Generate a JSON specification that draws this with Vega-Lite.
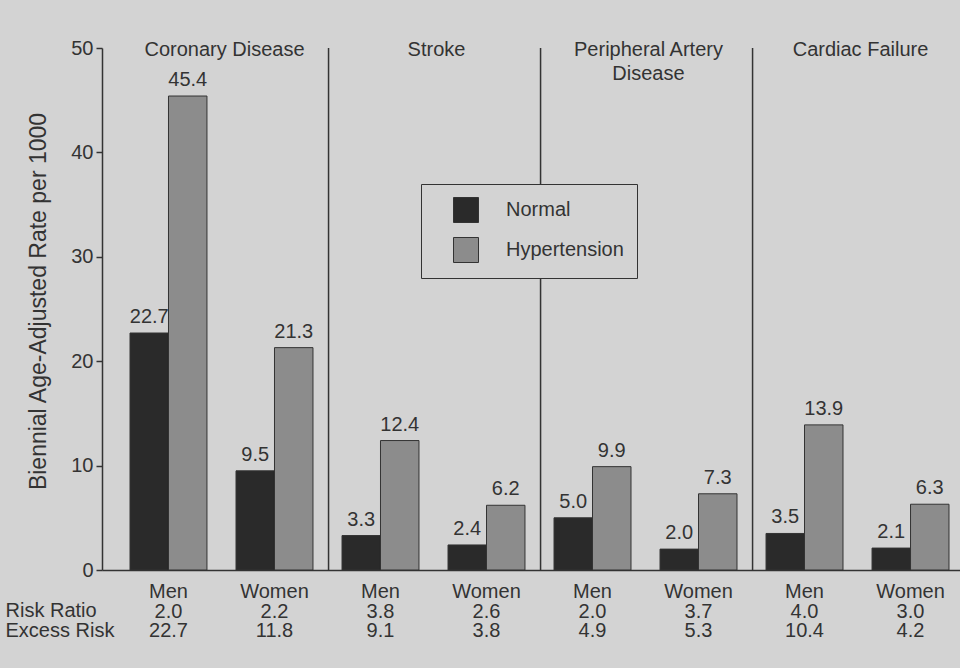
{
  "$schema": "https://vega.github.io/schema/vega-lite/v6.json",
  "width": 858,
  "height": 522,
  "autosize": {"type": "none"},
  "padding": {"left": 102, "top": 48, "right": 0, "bottom": 98},
  "background": "#d3d3d3",
  "config": {
    "font": "Liberation Sans",
    "view": {"stroke": null},
    "text": {"font": "Liberation Sans"}
  },
  "datasets": {
    "bars": [
      {"disease": "Coronary Disease", "group": "Men|2.0|22.7", "status": "Normal", "rate": 22.7},
      {"disease": "Coronary Disease", "group": "Men|2.0|22.7", "status": "Hypertension", "rate": 45.4},
      {"disease": "Coronary Disease", "group": "Women|2.2|11.8", "status": "Normal", "rate": 9.5},
      {"disease": "Coronary Disease", "group": "Women|2.2|11.8", "status": "Hypertension", "rate": 21.3},
      {"disease": "Stroke", "group": "Men|3.8|9.1", "status": "Normal", "rate": 3.3},
      {"disease": "Stroke", "group": "Men|3.8|9.1", "status": "Hypertension", "rate": 12.4},
      {"disease": "Stroke", "group": "Women|2.6|3.8", "status": "Normal", "rate": 2.4},
      {"disease": "Stroke", "group": "Women|2.6|3.8", "status": "Hypertension", "rate": 6.2},
      {"disease": "Peripheral Artery Disease", "group": "Men|2.0|4.9", "status": "Normal", "rate": 5.0},
      {"disease": "Peripheral Artery Disease", "group": "Men|2.0|4.9", "status": "Hypertension", "rate": 9.9},
      {"disease": "Peripheral Artery Disease", "group": "Women|3.7|5.3", "status": "Normal", "rate": 2.0},
      {"disease": "Peripheral Artery Disease", "group": "Women|3.7|5.3", "status": "Hypertension", "rate": 7.3},
      {"disease": "Cardiac Failure", "group": "Men|4.0|10.4", "status": "Normal", "rate": 3.5},
      {"disease": "Cardiac Failure", "group": "Men|4.0|10.4", "status": "Hypertension", "rate": 13.9},
      {"disease": "Cardiac Failure", "group": "Women|3.0|4.2", "status": "Normal", "rate": 2.1},
      {"disease": "Cardiac Failure", "group": "Women|3.0|4.2", "status": "Hypertension", "rate": 6.3}
    ],
    "panels": [
      {"title": ["Coronary Disease"], "titleAt": "Women|2.2|11.8"},
      {"title": ["Stroke"], "titleAt": "Women|2.6|3.8"},
      {"title": ["Peripheral Artery", "Disease"], "titleAt": "Women|3.7|5.3"},
      {"title": ["Cardiac Failure"], "titleAt": "Women|3.0|4.2"}
    ],
    "dividers": [
      {"at": "Men|3.8|9.1"},
      {"at": "Men|2.0|4.9"},
      {"at": "Men|4.0|10.4"}
    ]
  },
  "layer": [
    {
      "data": {"name": "dividers"},
      "mark": {"type": "rule", "color": "#333333", "strokeWidth": 1.5},
      "encoding": {
        "x": {"field": "at", "type": "nominal", "bandPosition": -0.175}
      }
    },
    {
      "data": {"name": "bars"},
      "mark": {"type": "bar", "stroke": "#333333", "strokeWidth": 1},
      "encoding": {
        "x": {
          "field": "group",
          "type": "nominal",
          "scale": {
            "domain": ["Men|2.0|22.7", "Women|2.2|11.8", "Men|3.8|9.1", "Women|2.6|3.8", "Men|2.0|4.9", "Women|3.7|5.3", "Men|4.0|10.4", "Women|3.0|4.2"],
            "paddingInner": 0.274,
            "paddingOuter": 0.184,
            "align": 0.718
          },
          "axis": {
            "title": ["Risk Ratio", "Excess Risk"],
            "titleX": -97,
            "titleY": 30.5,
            "titleAlign": "left",
            "titleBaseline": "top",
            "titleFontSize": 20,
            "titleFontWeight": "normal",
            "titleColor": "#333333",
            "titleLineHeight": 19.5,
            "labelExpr": "split(datum.value, '|')",
            "labelFontSize": 20,
            "labelColor": "#333333",
            "labelLineHeight": 19.5,
            "labelPadding": 11.5,
            "labelAngle": 0,
            "labelAlign": "center",
            "labelBaseline": "top",
            "ticks": false,
            "domainColor": "#333333",
            "domainWidth": 1.5
          }
        },
        "xOffset": {
          "field": "status",
          "type": "nominal",
          "scale": {"domain": ["Normal", "Hypertension"], "paddingInner": 0, "paddingOuter": 0}
        },
        "y": {
          "field": "rate",
          "type": "quantitative",
          "scale": {"domain": [0, 50], "nice": false},
          "axis": {
            "title": "Biennial Age-Adjusted Rate per 1000",
            "values": [0, 10, 20, 30, 40, 50],
            "grid": false,
            "tickSize": 6,
            "tickColor": "#333333",
            "tickWidth": 1.5,
            "domainColor": "#333333",
            "domainWidth": 1.5,
            "labelFontSize": 20,
            "labelColor": "#333333",
            "labelPadding": 3,
            "titleFontSize": 23,
            "titleFontWeight": "normal",
            "titleColor": "#333333",
            "titlePadding": 20,
            "titleY": 253
          }
        },
        "color": {
          "field": "status",
          "type": "nominal",
          "scale": {"domain": ["Normal", "Hypertension"], "range": ["#2a2a2a", "#8c8c8c"]},
          "legend": {
            "title": null,
            "orient": "none",
            "legendX": 319,
            "legendY": 136,
            "padding": 13,
            "rowPadding": 10,
            "labelOffset": 27,
            "symbolOffset": 19,
            "symbolType": "square",
            "symbolSize": 625,
            "symbolStrokeColor": "#333333",
            "symbolStrokeWidth": 1,
            "labelFontSize": 20,
            "labelColor": "#333333",
            "strokeColor": "#333333",
            "fillColor": "#d3d3d3"
          }
        }
      }
    },
    {
      "data": {"name": "bars"},
      "mark": {"type": "text", "baseline": "bottom", "dy": -6, "fontSize": 20, "color": "#333333"},
      "encoding": {
        "x": {"field": "group", "type": "nominal"},
        "xOffset": {"field": "status", "type": "nominal"},
        "y": {"field": "rate", "type": "quantitative"},
        "text": {"field": "rate", "type": "quantitative", "format": ".1f"}
      }
    },
    {
      "data": {"name": "panels"},
      "mark": {"type": "text", "baseline": "top", "dy": -8, "fontSize": 20, "lineHeight": 24, "color": "#333333"},
      "encoding": {
        "x": {"field": "titleAt", "type": "nominal", "bandPosition": -0.15},
        "y": {"datum": 50, "type": "quantitative"},
        "text": {"field": "title", "type": "nominal"}
      }
    }
  ]
}
